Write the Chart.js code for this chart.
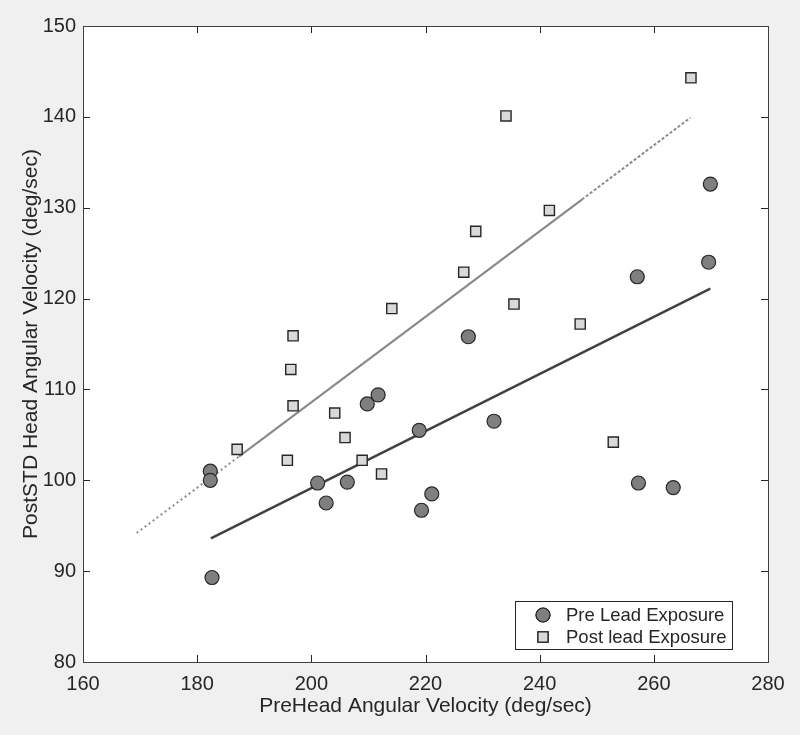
<!DOCTYPE html>
<html>
<head>
<meta charset="utf-8">
<script src="https://cdn.jsdelivr.net/npm/chart.js@4.4.1/dist/chart.umd.min.js"></script>
<style>
  html, body { margin: 0; padding: 0; background: #f0f0f0; }
  #wrap { width: 800px; height: 735px; }
</style>
</head>
<body>
<div id="wrap"><canvas id="velChart" width="800" height="735"></canvas></div>
<script>
// --- DATA ---
const preX = [182.3, 182.3, 182.6, 201.1, 202.6, 206.3, 209.8, 211.7, 218.9, 219.3, 221.1, 227.5, 232.0, 257.1, 257.3, 263.4, 269.6, 269.9];
const preY = [101.0, 100.0, 89.3, 99.7, 97.5, 99.8, 108.4, 109.4, 105.5, 96.7, 98.5, 115.8, 106.5, 122.4, 99.7, 99.2, 124.0, 132.6];

const postX = [187.0, 195.8, 196.4, 196.8, 196.8, 204.1, 205.9, 208.9, 212.3, 214.1, 226.7, 228.8, 234.1, 235.5, 241.7, 247.1, 252.9, 266.5];
const postY = [103.4, 102.2, 112.2, 108.2, 115.9, 107.4, 104.7, 102.2, 100.7, 118.9, 122.9, 127.4, 140.1, 119.4, 129.7, 117.2, 104.2, 144.3];

// fitted lines, end points
const preFitX = [182.4, 269.9];
const preFitY = [93.6, 121.1];
const postFitLeftX = [169.4, 187.3];
const postFitLeftY = [94.2, 102.6];
const postFitMidX = [187.3, 247.4];
const postFitMidY = [102.6, 130.9];
const postFitRightX = [247.4, 266.4];
const postFitRightY = [130.9, 139.9];

const xTicks = [160, 180, 200, 220, 240, 260, 280];
const yTicks = [80, 90, 100, 110, 120, 130, 140, 150];
const legendLabels = ['Pre Lead Exposure', 'Post lead Exposure'];

const TEXT = '#262626';
const FONT = 'Arial, "Liberation Sans", sans-serif';

function pts(xs, ys) {
    return xs.map((x, i) => ({ x: x, y: ys[i] }));
}

// box + inward ticks on all four sides
const boxPlugin = {
    id: 'boxAxes',
    afterDatasetsDraw(chart) {
        const ctx = chart.ctx;
        const a = chart.chartArea;
        const xs = chart.scales.x, ys = chart.scales.y;
        const len = 7;
        ctx.save();
        ctx.strokeStyle = '#262626';
        ctx.lineWidth = 1;
        ctx.beginPath();
        xTicks.forEach(v => {
            const px = Math.round(xs.getPixelForValue(v)) + 0.5;
            ctx.moveTo(px, a.bottom); ctx.lineTo(px, a.bottom - len);
            ctx.moveTo(px, a.top); ctx.lineTo(px, a.top + len);
        });
        yTicks.forEach(v => {
            const py = Math.round(ys.getPixelForValue(v)) + 0.5;
            ctx.moveTo(a.left, py); ctx.lineTo(a.left + len, py);
            ctx.moveTo(a.right, py); ctx.lineTo(a.right - len, py);
        });
        ctx.stroke();
        ctx.strokeStyle = '#404040';
        ctx.strokeRect(Math.round(a.left) + 0.5, Math.round(a.top) + 0.5,
            Math.round(a.right - a.left), Math.round(a.bottom - a.top));
        ctx.restore();
    }
};

// white plot background
const bgPlugin = {
    id: 'plotBg',
    beforeDraw(chart) {
        const ctx = chart.ctx, a = chart.chartArea;
        ctx.save();
        ctx.fillStyle = '#f0f0f0';
        ctx.fillRect(0, 0, chart.width, chart.height);
        ctx.fillStyle = '#ffffff';
        ctx.fillRect(a.left, a.top, a.right - a.left, a.bottom - a.top);
        ctx.restore();
    }
};

// legend box in the lower right of the plot
const legendPlugin = {
    id: 'boxLegend',
    afterDraw(chart) {
        const ctx = chart.ctx, a = chart.chartArea;
        const w = 217, h = 48;
        const x0 = a.right - 36 - w, y0 = a.bottom - 13 - h;
        ctx.save();
        ctx.fillStyle = '#ffffff';
        ctx.fillRect(x0, y0, w, h);
        ctx.strokeStyle = '#262626';
        ctx.lineWidth = 1;
        ctx.strokeRect(Math.round(x0) + 0.5, Math.round(y0) + 0.5, w, h);
        ctx.font = '18.5px ' + FONT;
        ctx.fillStyle = TEXT;
        ctx.textBaseline = 'middle';
        legendLabels.forEach((lbl, i) => {
            const cy = y0 + 14 + i * 22;
            const ds = chart.data.datasets[i];
            Chart.helpers.drawPoint(ctx, {
                pointStyle: ds.pointStyle,
                radius: ds.pointRadius,
                borderWidth: ds.borderWidth
            }, x0 + 28, cy);
            ctx.fillStyle = ds.backgroundColor;
            ctx.strokeStyle = ds.borderColor;
            ctx.lineWidth = ds.borderWidth;
            ctx.fill();
            ctx.stroke();
            ctx.fillStyle = TEXT;
            ctx.fillText(lbl, x0 + 51, cy + 1);
        });
        ctx.restore();
    }
};

const ctx = document.getElementById('velChart').getContext('2d');
new Chart(ctx, {
    type: 'scatter',
    data: {
        datasets: [
            {
                label: legendLabels[0],
                data: pts(preX, preY),
                pointStyle: 'circle',
                pointRadius: 7,
                backgroundColor: '#7f7f7f',
                borderColor: '#262626',
                borderWidth: 1.2
            },
            {
                label: legendLabels[1],
                data: pts(postX, postY),
                pointStyle: 'rect',
                pointRadius: 7.2,
                backgroundColor: '#d9d9d9',
                borderColor: '#262626',
                borderWidth: 1.4
            },
            {
                data: pts(preFitX, preFitY),
                showLine: true, pointRadius: 0,
                borderColor: '#404040', borderWidth: 2.5
            },
            {
                data: pts(postFitMidX, postFitMidY),
                showLine: true, pointRadius: 0,
                borderColor: '#8a8a8a', borderWidth: 2.2
            },
            {
                data: pts(postFitLeftX, postFitLeftY),
                showLine: true, pointRadius: 0,
                borderColor: '#8a8a8a', borderWidth: 2, borderDash: [2, 3]
            },
            {
                data: pts(postFitRightX, postFitRightY),
                showLine: true, pointRadius: 0,
                borderColor: '#8a8a8a', borderWidth: 2, borderDash: [3, 2]
            }
        ]
    },
    options: {
        responsive: false,
        animation: false,
        events: [],
        layout: { padding: { top: 26, right: 32, left: 0, bottom: 0 } },
        plugins: {
            legend: { display: false },
            tooltip: { enabled: false }
        },
        scales: {
            x: {
                type: 'linear',
                min: 160, max: 280,
                afterBuildTicks: s => { s.ticks = xTicks.map(v => ({ value: v })); },
                afterFit: s => { s.height = 73; },
                grid: { display: false, drawTicks: false },
                border: { display: false },
                ticks: { color: TEXT, font: { family: FONT, size: 20 }, padding: 10 },
                title: {
                    display: true,
                    text: 'PreHead Angular Velocity (deg/sec)',
                    color: TEXT,
                    font: { family: FONT, size: 21 },
                    padding: { top: 0, bottom: 16 }
                }
            },
            y: {
                type: 'linear',
                min: 80, max: 150,
                afterBuildTicks: s => { s.ticks = yTicks.map(v => ({ value: v })); },
                afterFit: s => { s.width = 83; },
                grid: { display: false, drawTicks: false },
                border: { display: false },
                ticks: { color: TEXT, font: { family: FONT, size: 20 }, padding: 7 },
                title: {
                    display: true,
                    text: 'PostSTD Head Angular Velocity (deg/sec)',
                    color: TEXT,
                    font: { family: FONT, size: 21 },
                    padding: { top: 19, bottom: 0 }
                }
            }
        }
    },
    plugins: [bgPlugin, boxPlugin, legendPlugin]
});
</script>
</body>
</html>
